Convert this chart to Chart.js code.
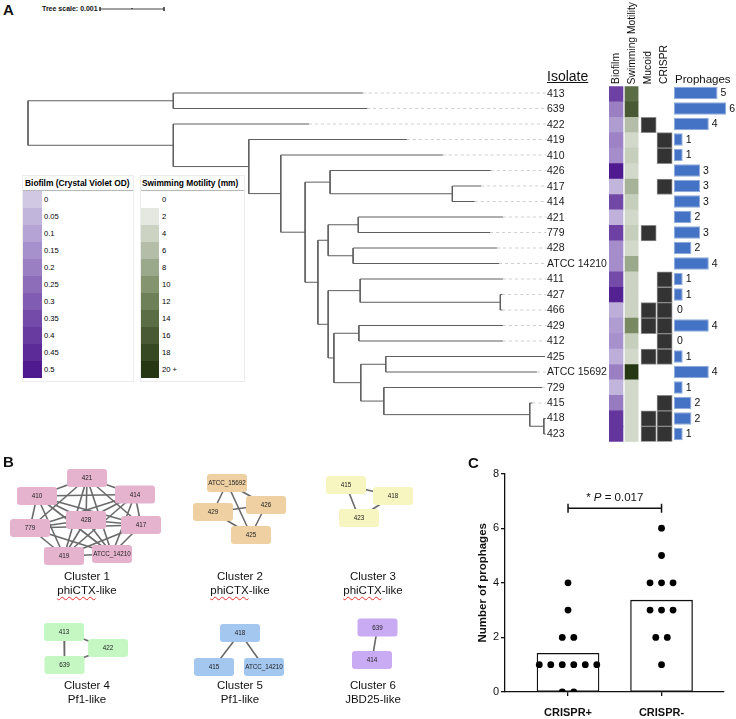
<!DOCTYPE html>
<html>
<head>
<meta charset="utf-8">
<title>Isolate phenotypes, CRISPR and prophages</title>
<script src="https://cdn.jsdelivr.net/npm/chart.js@4.4.1/dist/chart.umd.min.js"></script>
<style>
  body { margin: 0; background: #fff; font-family: 'Liberation Sans', Arial, sans-serif; color: #111; }
  #page { position: relative; width: 736px; height: 719px; overflow: hidden; }
  .abs { position: absolute; }
  .letter { position: absolute; font-weight: bold; font-size: 15px; line-height: 16px; }
  .vhead { position: absolute; bottom: 635px; writing-mode: vertical-rl; transform: rotate(180deg); font-size: 10.3px; line-height: 12px; white-space: nowrap; }
  .legend { position: absolute; top: 175px; height: 205px; border: 1px solid #ececec; background: #fff; }
  .lg-title { font-weight: bold; font-size: 8.4px; height: 14px; line-height: 15px; border-bottom: 1px solid #b8b8b8; white-space: nowrap; color: #000; }
  .lg-row { height: 17px; display: flex; align-items: center; }
  .lg-sw { height: 17px; flex: none; }
  .lg-tx { font-size: 7.6px; color: #000; }
  .caption { position: absolute; width: 130px; margin-left: -65px; text-align: center; font-size: 11.5px; line-height: 14px; }
  .squiggle { text-decoration: underline wavy #e03030; text-decoration-thickness: 1px; text-underline-offset: 2px; }
</style>
</head>
<body>
<div id="page">
  <div class="letter" style="left:3px;top:2px">A</div>
  <div class="abs" style="left:42px;top:4px;font-weight:bold;font-size:7px;line-height:10px">Tree scale: 0.001</div>
  <div class="abs" style="left:0;top:0;width:560px;height:460px"><canvas id="treeChart"></canvas></div>

  <div id="biofilmLegend" class="legend" style="left:22px;width:110px"></div>
  <div id="swimLegend" class="legend" style="left:140px;width:103px"></div>

  <div class="abs" style="left:547px;top:68px;font-size:14px;line-height:17px;text-decoration:underline">Isolate</div>
  <div class="vhead" style="left:610px">Biofilm</div>
  <div class="vhead" style="left:626px">Swimming Motility</div>
  <div class="vhead" style="left:642px">Mucoid</div>
  <div class="vhead" style="left:658px">CRISPR</div>
  <div class="abs" style="left:675px;top:72px;font-size:11.5px;line-height:14px">Prophages</div>
  <div class="abs" style="left:547px;top:80px;width:126px;height:370px"><canvas id="heatChart"></canvas></div>
  <div class="abs" style="left:674px;top:80px;width:62px;height:370px"><canvas id="prophageChart"></canvas></div>

  <div class="letter" style="left:3px;top:454px">B</div>
  <div class="abs" style="left:0;top:460px;width:470px;height:259px"><canvas id="networkChart"></canvas></div>
  <div id="captions"></div>

  <div class="letter" style="left:468px;top:455px">C</div>
  <div class="abs" style="left:470px;top:465px;width:266px;height:254px"><canvas id="crisprChart"></canvas></div>
</div>

<script>
// ---- panel A data (rows top to bottom) ----
const isolates   = ['413','639','422','419','410','426','417','414','421','779','428','ATCC 14210','411','427','466','429','412','425','ATCC 15692','729','415','418','423'];
// distance from root, in tree-scale units (0.001)
const leafDepth  = [5.23,5.30,4.39,5.92,6.48,7.23,7.08,6.98,7.42,7.22,7.33,7.36,7.42,7.41,7.41,7.42,7.42,8.08,7.95,8.03,7.88,8.09,8.09];
const biofilmOD  = [0.38,0.20,0.12,0.19,0.16,0.50,0.05,0.36,0.06,0.38,0.16,0.16,0.35,0.48,0.07,0.12,0.15,0.07,0.20,0.05,0.21,0.42,0.42];
const swimmingMm = [14,16,6,3.5,4.5,3.5,7,4.5,3.5,4.5,3.5,8,4,4,4,11,4.5,3.5,20,3.5,3.5,3.5,3.5];
const mucoid     = [0,0,1,0,0,0,0,0,0,1,0,0,0,0,1,1,0,1,0,0,0,1,1];
const crispr     = [0,0,0,1,1,0,1,0,0,0,0,0,1,1,1,1,1,1,0,0,1,1,1];
const prophages  = [5,6,4,1,1,3,3,3,2,3,2,4,1,1,0,4,0,1,4,1,2,2,1];

// internal nodes of the tree: children and depth
const cladeIds   = ['c1','c2','c3','c4','c5','c6','c7','c8','c9','c10','c11','c12','c13','c14','c15','c16','c17','c18','c19','c20','c21','root'];
const cladeKids  = [['413','639'],['427','466'],['418','423'],['415','c3'],['729','c4'],['425','ATCC 15692'],['c6','c5'],['429','412'],['c8','c7'],['411','c2'],['c10','c9'],['421','779'],['428','ATCC 14210'],['c12','c13'],['c14','c11'],['417','414'],['426','c16'],['c17','c15'],['410','c18'],['419','c19'],['422','c20'],['c1','c21']];
const cladeDepth = [2.27,7.38,8.06,7.84,5.56,5.59,5.20,5.17,4.78,5.19,4.69,5.16,5.08,4.69,4.53,6.63,4.72,4.33,3.95,3.45,2.27,0];

// colour scales
const biofilmTicks = ['0','0.05','0.1','0.15','0.2','0.25','0.3','0.35','0.4','0.45','0.5'];
const biofilmRamp  = ['#d1c8e4','#c2b5dc','#b4a3d4','#a791cc','#9a7fc3','#8d6dba','#805cb2','#744ba9','#683ba1','#5c2b98','#4f1a8f'];
const swimTicks    = ['0','2','4','6','8','10','12','14','16','18','20 +'];
const swimRamp     = ['#ffffff','#e5e8e0','#ccd3c3','#b3bda7','#9aa88b','#84946f','#6e8057','#5b6d45','#485934','#374923','#263714'];

// ---- panel B data ----
const clusterTitles  = ['Cluster 1','Cluster 2','Cluster 3','Cluster 4','Cluster 5','Cluster 6'];
const clusterKinds   = ['phiCTX-like','phiCTX-like','phiCTX-like','Pf1-like','Pf1-like','JBD25-like'];
const clusterColors  = ['#e6b3cf','#efd0a3','#f8f6c0','#c4f7c2','#a3c7ef','#c8abf3'];
const clusterMembers = [
  ['421','410','414','428','779','417','419','ATCC_14210'],
  ['ATCC_15692','429','426','425'],
  ['415','418','423'],
  ['413','422','639'],
  ['418','415','ATCC_14210'],
  ['639','414']
];
// layout coordinates of each node relative to its cluster label
const clusterNodeX = [[0,-50,48,-1,-57,54,-23,25],[-13,-27,26,11],[-27,20,-14],[-23,21,-22.5],[0,-26,24],[4.5,-1]];
const clusterNodeY = [[-98,-80,-81.5,-56,-48,-51,-20,-22],[-93,-64,-71,-41],[-91,-80,-58],[-53,-37,-20],[-52,-18,-18],[-57.5,-25]];
const allPairs = n => { const e = []; for (let i = 0; i < n; i++) for (let j = i + 1; j < n; j++) e.push([i, j]); return e; };
const clusterEdges = [allPairs(8), allPairs(4), [[0,1],[0,2],[2,1]], [[0,2],[0,1],[2,1]], [[0,1],[0,2]], [[0,1]]];

// ---- panel C data ----
const groupLabels = ['CRISPR+', 'CRISPR-'];
const sigP = 0.017;
const sigLevel = 6.73;

Chart.defaults.font.family = "'Liberation Sans', Arial, sans-serif";
Chart.defaults.color = '#111';
Chart.defaults.animation = false;
Chart.defaults.plugins.legend.display = false;
Chart.defaults.plugins.tooltip.enabled = false;

function ramp(stops, t) {
    t = Math.max(0, Math.min(stops.length - 1, t));
    const i = Math.min(Math.floor(t), stops.length - 2), f = t - i;
    const a = stops[i].match(/\w\w/g).map(h => parseInt(h, 16));
    const b = stops[i + 1].match(/\w\w/g).map(h => parseInt(h, 16));
    return 'rgb(' + a.map((v, k) => Math.round(v + (b[k] - v) * f)).join(',') + ')';
}

function buildLegend(id, title, ticks, colors, swW, gap, pad) {
    const el = document.getElementById(id);
    el.innerHTML = `<div class="lg-title" style="padding-left:${pad}px">${title}</div>` +
        ticks.map((t, i) => `<div class="lg-row"><span class="lg-sw" style="width:${swW}px;background:${colors[i]}"></span><span class="lg-tx" style="margin-left:${gap}px">${t}</span></div>`).join('');
}

document.addEventListener('DOMContentLoaded', () => {
    buildLegend('biofilmLegend', 'Biofilm (Crystal Violet OD)', biofilmTicks, biofilmRamp, 19, 2, 2);
    buildLegend('swimLegend', 'Swimming Motility (mm)', swimTicks, swimRamp, 18, 3, 1);
    renderTree();
    renderHeatmap();
    renderProphages();
    renderNetworks();
    renderCrisprPlot();
});

// rows: first row centre at y=93, 15.5px apart
const ROW0 = 93, ROWH = 15.5;

function renderTree() {
    const W = 560, H = 460, X0 = 28, UNIT = 64;
    const pos = {};
    isolates.forEach((n, i) => pos[n] = { x: leafDepth[i], y: i });
    const datasets = [];
    const line = (pts, extra) => datasets.push(Object.assign({ data: pts, showLine: true, borderColor: '#5e5e5e', borderWidth: 1, pointRadius: 0, clip: false }, extra));
    cladeIds.forEach((id, k) => {
        const a = pos[cladeKids[k][0]], b = pos[cladeKids[k][1]], d = cladeDepth[k];
        pos[id] = { x: d, y: (a.y + b.y) / 2 };
        line([{ x: a.x, y: a.y }, { x: d, y: a.y }, { x: d, y: b.y }, { x: b.x, y: b.y }]);
    });
    const labelDepth = 8.1;
    isolates.forEach((n, i) => {
        if (labelDepth - leafDepth[i] > 0.05)
            line([{ x: leafDepth[i], y: i }, { x: labelDepth, y: i }], { borderColor: '#cfcfcf', borderDash: [3, 3] });
    });
    // scale bar: 0.001
    const sy = (9 - ROW0) / ROWH, sx = (100 - X0) / UNIT, cap = 0.13;
    line([{ x: sx, y: sy }, { x: sx + 1, y: sy }], { borderColor: '#444' });
    [sx, sx + 0.5, sx + 1].forEach((v, i) => line([{ x: v, y: sy - (i === 1 ? cap / 2 : cap) }, { x: v, y: sy + (i === 1 ? 0 : cap) }], { borderColor: '#444' }));

    new Chart(document.getElementById('treeChart'), {
        type: 'scatter',
        data: { datasets },
        options: {
            responsive: true, maintainAspectRatio: false,
            layout: { padding: 0 },
            scales: {
                x: { type: 'linear', display: false, min: -X0 / UNIT, max: (W - X0) / UNIT },
                y: { type: 'linear', display: false, reverse: true, min: -ROW0 / ROWH, max: (H - ROW0) / ROWH }
            }
        }
    });
}

function rowPadding() {
    // chart area: rows of 15.5px centred at ROW0 + i*ROWH, container top 80, height 370
    const top = ROW0 - ROWH / 2 - 80;
    return { top, bottom: 370 - top - ROWH * isolates.length, left: 0, right: 0 };
}

function renderHeatmap() {
    const cell = { borderSkipped: false, barPercentage: 1, categoryPercentage: 1 };
    new Chart(document.getElementById('heatChart'), {
        type: 'bar',
        data: {
            labels: isolates,
            datasets: [
                Object.assign({ data: isolates.map(() => [0, 0.875]), backgroundColor: biofilmOD.map(v => ramp(biofilmRamp, v / 0.05)) }, cell),
                Object.assign({ data: isolates.map(() => [1, 1.82]), backgroundColor: swimmingMm.map(v => ramp(swimRamp, v / 2)) }, cell),
                Object.assign({ data: mucoid.map(m => m ? [2.0, 2.95] : null), backgroundColor: '#333', borderColor: '#8a8a8a', borderWidth: 1 }, cell),
                Object.assign({ data: crispr.map(c => c ? [3.0, 3.95] : null), backgroundColor: '#333', borderColor: '#8a8a8a', borderWidth: 1 }, cell)
            ]
        },
        options: {
            responsive: true, maintainAspectRatio: false, indexAxis: 'y',
            grouped: false,
            layout: { padding: rowPadding() },
            scales: {
                x: { type: 'linear', display: false, min: 0, max: 4 },
                y: {
                    grid: { display: false }, border: { display: false },
                    ticks: { crossAlign: 'far', padding: 0, autoSkip: false, font: { size: 10.5 }, color: '#1a1a1a' },
                    afterFit: s => { s.width = 62; }
                }
            }
        }
    });
}

function renderProphages() {
    const valueLabels = {
        id: 'valueLabels',
        afterDatasetsDraw(chart) {
            const { ctx } = chart;
            ctx.save();
            ctx.font = "10.5px 'Liberation Sans', Arial";
            ctx.fillStyle = '#111';
            ctx.textBaseline = 'middle';
            chart.getDatasetMeta(0).data.forEach((bar, i) => ctx.fillText(String(prophages[i]), bar.x + 3, bar.y + 0.5));
            ctx.restore();
        }
    };
    new Chart(document.getElementById('prophageChart'), {
        type: 'bar',
        data: {
            labels: isolates,
            datasets: [{
                data: prophages,
                backgroundColor: '#4472c4',
                borderColor: '#8eaadc',
                borderWidth: c => prophages[c.dataIndex] ? 1 : 0,
                borderSkipped: false,
                barPercentage: 0.8, categoryPercentage: 1
            }]
        },
        options: {
            responsive: true, maintainAspectRatio: false, indexAxis: 'y',
            layout: { padding: rowPadding() },
            scales: {
                x: { type: 'linear', display: false, min: 0, max: 62 / 8.7 },
                y: { display: false }
            }
        },
        plugins: [valueLabels]
    });
}

function renderNetworks() {
    // cluster label centres on a 3 x 2 grid
    const colX = [87, 240, 373], rowY = [116, 225];
    const centre = k => ({ x: colX[k % 3], y: rowY[Math.floor(k / 3)] });
    const datasets = [];
    clusterMembers.forEach((members, k) => {
        const c = centre(k);
        const pts = members.map((_, i) => ({ x: c.x + clusterNodeX[k][i], y: c.y + clusterNodeY[k][i] }));
        clusterEdges[k].forEach(([a, b]) => datasets.push({
            data: [pts[a], pts[b]], showLine: true, borderColor: '#6a6a6a', borderWidth: 1.6, pointRadius: 0, clip: false
        }));
        datasets.push({ data: pts, pointRadius: 0, nodeNames: members, nodeColor: clusterColors[k] });
    });
    document.getElementById('captions').innerHTML = clusterTitles.map((t, k) => {
        const c = centre(k), kind = clusterKinds[k];
        const kindHtml = kind.startsWith('phiCTX') ? '<span class="squiggle">phiCTX</span>-like' : kind;
        return `<div class="caption" style="left:${c.x}px;top:${460 + c.y - 7}px">${t}<br>${kindHtml}</div>`;
    }).join('');

    const nodeBoxes = {
        id: 'nodeBoxes',
        afterDatasetsDraw(chart) {
            const { ctx } = chart;
            ctx.save();
            ctx.textAlign = 'center';
            ctx.textBaseline = 'middle';
            chart.data.datasets.forEach((ds, di) => {
                if (!ds.nodeNames) return;
                chart.getDatasetMeta(di).data.forEach((pt, i) => {
                    ctx.fillStyle = ds.nodeColor;
                    ctx.beginPath();
                    if (ctx.roundRect) ctx.roundRect(pt.x - 20, pt.y - 9, 40, 18, 3);
                    else ctx.rect(pt.x - 20, pt.y - 9, 40, 18);
                    ctx.fill();
                    ctx.fillStyle = '#222';
                    ctx.font = "6.3px 'Liberation Sans', Arial";
                    ctx.fillText(ds.nodeNames[i], pt.x, pt.y + 0.5);
                });
            });
            ctx.restore();
        }
    };
    new Chart(document.getElementById('networkChart'), {
        type: 'scatter',
        data: { datasets },
        options: {
            responsive: true, maintainAspectRatio: false,
            layout: { padding: 0 },
            scales: {
                x: { type: 'linear', display: false, min: 0, max: 470 },
                y: { type: 'linear', display: false, reverse: true, min: 0, max: 259 }
            }
        },
        plugins: [nodeBoxes]
    });
}

function renderCrisprPlot() {
    const groups = [prophages.filter((_, i) => crispr[i]), prophages.filter((_, i) => !crispr[i])];
    const means = groups.map(g => g.reduce((s, v) => s + v, 0) / g.length);
    const dots = [];
    groups.forEach((g, gi) => {
        const levels = [...new Set(g)];
        levels.forEach(v => {
            const n = g.filter(u => u === v).length;
            for (let k = 0; k < n; k++) dots.push({ x: gi + (k - (n - 1) / 2) * 0.123, y: v });
        });
    });
    const capH = 0.165;
    const sigLine = pts => ({ type: 'scatter', data: pts, showLine: true, borderColor: '#111', borderWidth: 1.5, pointRadius: 0, order: 0 });

    const sigLabel = {
        id: 'sigLabel',
        afterDatasetsDraw(chart) {
            const { ctx, scales: { x, y } } = chart;
            const cx = x.getPixelForValue(0.5), cy = y.getPixelForValue(sigLevel) - 10;
            const parts = [['* ', 'normal'], ['P', 'italic'], [' = ' + sigP.toFixed(3), 'normal']];
            ctx.save();
            ctx.fillStyle = '#111';
            ctx.textBaseline = 'middle';
            let w = 0;
            parts.forEach(([t, s]) => { ctx.font = `${s} 11.5px 'Liberation Sans', Arial`; w += ctx.measureText(t).width; });
            let px = cx - w / 2;
            parts.forEach(([t, s]) => { ctx.font = `${s} 11.5px 'Liberation Sans', Arial`; ctx.fillText(t, px, cy); px += ctx.measureText(t).width; });
            ctx.restore();
        }
    };

    new Chart(document.getElementById('crisprChart'), {
        type: 'bar',
        data: {
            datasets: [
                { type: 'bar', data: means.map((m, i) => ({ x: i, y: m })), backgroundColor: '#fff', borderColor: '#111', borderWidth: 1.3, borderSkipped: false, barThickness: 62, order: 2 },
                { type: 'scatter', data: dots, backgroundColor: '#000', borderWidth: 0, pointRadius: 3.4, order: 1 },
                sigLine([{ x: 0, y: sigLevel }, { x: 1, y: sigLevel }]),
                sigLine([{ x: 0, y: sigLevel - capH }, { x: 0, y: sigLevel + capH }]),
                sigLine([{ x: 1, y: sigLevel - capH }, { x: 1, y: sigLevel + capH }])
            ]
        },
        options: {
            responsive: true, maintainAspectRatio: false,
            layout: { padding: { top: 8, right: 12, left: 0, bottom: 0 } },
            scales: {
                x: {
                    type: 'linear', min: -0.674, max: 1.668, offset: false,
                    afterBuildTicks: s => { s.ticks = [{ value: 0 }, { value: 1 }]; },
                    ticks: { callback: v => groupLabels[v], font: { size: 11, weight: 'bold' }, color: '#111', padding: 10, maxRotation: 0 },
                    grid: { drawOnChartArea: false, offset: false, tickLength: 4, color: '#111', lineWidth: 1.3 },
                    border: { color: '#111', width: 1.3 },
                    afterFit: s => { s.height = 27; }
                },
                y: {
                    min: 0, max: 8,
                    ticks: { stepSize: 2, font: { size: 11 }, color: '#111', padding: 2 },
                    grid: { drawOnChartArea: false, tickLength: 4, color: '#111', lineWidth: 1.3 },
                    border: { color: '#111', width: 1.3 },
                    title: { display: true, text: 'Number of prophages', font: { size: 11.5, weight: 'bold' }, color: '#111', padding: { top: 6, bottom: 0 } },
                    afterFit: s => { s.width = 35; }
                }
            }
        },
        plugins: [sigLabel]
    });
}
</script>
</body>
</html>
